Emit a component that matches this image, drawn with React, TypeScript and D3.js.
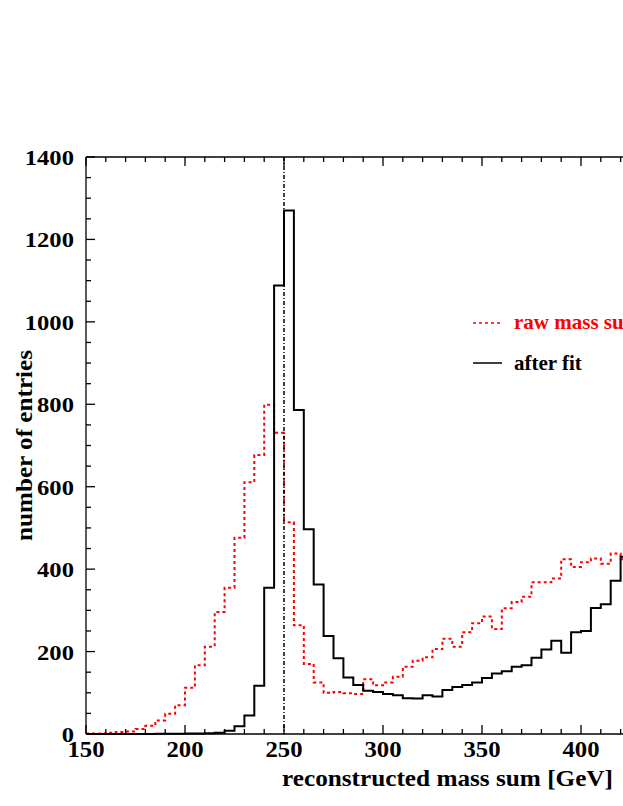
import React, { useEffect, useRef } from "react";
import * as d3 from "d3";

const binLows: number[] = d3.range(150, 425, 5);
const afterFit: number[] = [
  0, 0, 0, 0, 0, 0, 0, 0.5, 0.5, 0.5,
  1, 1.5, 2, 3, 8, 19, 45, 117, 355, 1088,
  1270, 786, 497, 363, 238, 184, 137, 119, 105, 102,
  97, 94, 87, 86, 94, 91, 107, 114, 119, 125,
  136, 147, 152, 163, 167, 185, 205, 226, 197, 247,
  250, 306, 315, 372, 430,
];
const rawMass: number[] = [
  1, 1, 3, 5, 6, 12, 20, 33, 49, 70,
  112, 167, 212, 296, 355, 476, 611, 677, 799, 731,
  514, 264, 170, 125, 100, 102, 99, 97, 133, 118,
  125, 139, 163, 178, 186, 206, 231, 212, 247, 269,
  285, 255, 305, 320, 333, 368, 368, 377, 424, 405,
  417, 426, 413, 438, 424,
];
const xTicks: number[] = [150, 200, 250, 300, 350, 400];
const yTicks: number[] = [0, 200, 400, 600, 800, 1000, 1200, 1400];
const legendLabels: string[] = ["raw mass sum", "after fit"];
const xTitle = "reconstructed mass sum [GeV]";
const yTitle = "number of entries";
const markerX = 250;
const binWidth = 5;

export default function App() {
  const ref = useRef<SVGSVGElement>(null);
  useEffect(() => {
    const svg = d3.select(ref.current);
    svg.selectAll("*").remove();
    const x = d3.scaleLinear().domain([150, 420]).range([86, 620.6]);
    const y = d3.scaleLinear().domain([0, 1400]).range([734, 157]);
    const font = "'Liberation Serif', 'Times New Roman', serif";
    const xMax = 430;

    const stepPts = (vals: number[]) => {
      const pts: [number, number][] = vals.map((v, i) => [binLows[i], v]);
      pts.push([binLows[binLows.length - 1] + binWidth, vals[vals.length - 1]]);
      return pts;
    };
    const line = d3
      .line<[number, number]>()
      .x((d) => x(d[0]))
      .y((d) => y(d[1]))
      .curve(d3.curveStepAfter);

    // histograms
    svg.append("path")
      .attr("d", line(stepPts(rawMass)))
      .attr("fill", "none")
      .attr("stroke", "#ff0000")
      .attr("stroke-width", 2)
      .attr("stroke-dasharray", "3,3");
    svg.append("path")
      .attr("d", line(stepPts(afterFit)))
      .attr("fill", "none")
      .attr("stroke", "#000")
      .attr("stroke-width", 2);

    // marker line
    svg.append("line")
      .attr("x1", x(markerX)).attr("x2", x(markerX))
      .attr("y1", y(1400)).attr("y2", y(0))
      .attr("stroke", "#000")
      .attr("stroke-width", 1.5)
      .attr("stroke-dasharray", "4,2,1,2");

    // frame
    const frame = svg.append("g").attr("stroke", "#000").attr("stroke-width", 1.3);
    frame.append("line").attr("x1", x(150)).attr("x2", x(xMax)).attr("y1", y(0)).attr("y2", y(0));
    frame.append("line").attr("x1", x(150)).attr("x2", x(xMax)).attr("y1", y(1400)).attr("y2", y(1400));
    frame.append("line").attr("x1", x(150)).attr("x2", x(150)).attr("y1", y(0)).attr("y2", y(1400));

    for (const t of d3.range(150, xMax + 1, 10)) {
      const major = t % 50 === 0;
      const len = major ? 9 : 5;
      frame.append("line").attr("x1", x(t)).attr("x2", x(t)).attr("y1", y(0)).attr("y2", y(0) - len);
      frame.append("line").attr("x1", x(t)).attr("x2", x(t)).attr("y1", y(1400)).attr("y2", y(1400) + len);
    }
    for (const t of d3.range(0, 1401, 50)) {
      const major = t % 200 === 0;
      const len = major ? 9 : 5;
      frame.append("line").attr("x1", x(150)).attr("x2", x(150) + len).attr("y1", y(t)).attr("y2", y(t));
    }

    // tick labels
    svg.append("g").selectAll("text").data(xTicks).join("text")
      .attr("transform", (d) => `translate(${x(d)},757) scale(1.03,1)`)
      .attr("text-anchor", "middle")
      .attr("font-family", font).attr("font-weight", "bold").attr("font-size", 24)
      .text((d) => String(d));
    svg.append("g").selectAll("text").data(yTicks).join("text")
      .attr("transform", (d) => `translate(74,${y(d) + 8}) scale(1.12,1)`)
      .attr("text-anchor", "end")
      .attr("font-family", font).attr("font-weight", "bold").attr("font-size", 22)
      .text((d) => String(d));

    // titles
    svg.append("text")
      .attr("x", 613).attr("y", 786)
      .attr("text-anchor", "end")
      .attr("textLength", 331).attr("lengthAdjust", "spacingAndGlyphs")
      .attr("font-family", font).attr("font-weight", "bold").attr("font-size", 24)
      .text(xTitle);
    svg.append("text")
      .attr("transform", `translate(32, 445.5) rotate(-90)`)
      .attr("text-anchor", "middle")
      .attr("textLength", 191).attr("lengthAdjust", "spacingAndGlyphs")
      .attr("font-family", font).attr("font-weight", "bold").attr("font-size", 24)
      .text(yTitle);

    // legend
    const lg = svg.append("g");
    lg.append("line").attr("x1", 473).attr("x2", 502).attr("y1", 323).attr("y2", 323)
      .attr("stroke", "#ff0000").attr("stroke-width", 1.5).attr("stroke-dasharray", "3,3");
    lg.append("text").attr("x", 514).attr("y", 329)
      .attr("font-family", font).attr("font-weight", "bold").attr("font-size", 21)
      .attr("fill", "#ff0000").text(legendLabels[0]);
    lg.append("line").attr("x1", 473).attr("x2", 502).attr("y1", 363).attr("y2", 363)
      .attr("stroke", "#000").attr("stroke-width", 1.5);
    lg.append("text").attr("x", 514).attr("y", 370)
      .attr("font-family", font).attr("font-weight", "bold").attr("font-size", 21)
      .attr("fill", "#000").text(legendLabels[1]);
  }, []);
  return (
    <svg
      ref={ref}
      width={623}
      height={806}
      style={{ position: "absolute", left: 0, top: 0, background: "#fff" }}
    />
  );
}
